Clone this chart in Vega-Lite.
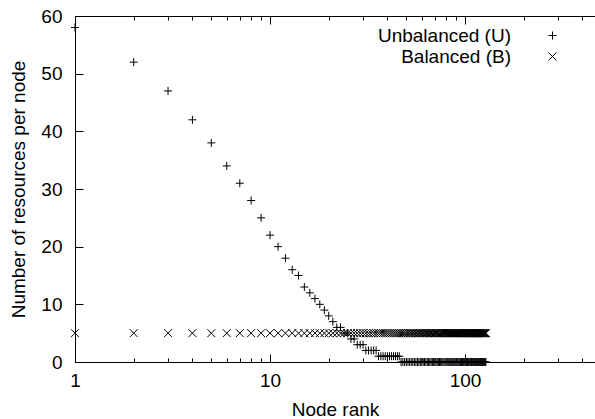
{
  "$schema": "https://vega.github.io/schema/vega-lite/v6.json",
  "width": 520,
  "height": 346,
  "autosize": {"type": "none"},
  "padding": {"left": 75, "top": 16, "right": 0, "bottom": 57},
  "background": "white",
  "config": {
    "view": {"stroke": null},
    "font": "Liberation Sans",
    "axis": {"domainColor": "black", "tickColor": "black", "labelColor": "black", "titleColor": "black", "grid": false, "labelFontSize": 19, "titleFontSize": 19, "titleFontWeight": "normal", "labelFlush": false, "labelOverlap": false}
  },
  "datasets": {
    "unbalanced": [
      {"rank": 1, "value": 58, "series": "Unbalanced (U)"}, {"rank": 2, "value": 52, "series": "Unbalanced (U)"},
      {"rank": 3, "value": 47, "series": "Unbalanced (U)"}, {"rank": 4, "value": 42, "series": "Unbalanced (U)"},
      {"rank": 5, "value": 38, "series": "Unbalanced (U)"}, {"rank": 6, "value": 34, "series": "Unbalanced (U)"},
      {"rank": 7, "value": 31, "series": "Unbalanced (U)"}, {"rank": 8, "value": 28, "series": "Unbalanced (U)"},
      {"rank": 9, "value": 25, "series": "Unbalanced (U)"}, {"rank": 10, "value": 22, "series": "Unbalanced (U)"},
      {"rank": 11, "value": 20, "series": "Unbalanced (U)"}, {"rank": 12, "value": 18, "series": "Unbalanced (U)"},
      {"rank": 13, "value": 16, "series": "Unbalanced (U)"}, {"rank": 14, "value": 15, "series": "Unbalanced (U)"},
      {"rank": 15, "value": 13, "series": "Unbalanced (U)"}, {"rank": 16, "value": 12, "series": "Unbalanced (U)"},
      {"rank": 17, "value": 11, "series": "Unbalanced (U)"}, {"rank": 18, "value": 10, "series": "Unbalanced (U)"},
      {"rank": 19, "value": 9, "series": "Unbalanced (U)"}, {"rank": 20, "value": 8, "series": "Unbalanced (U)"},
      {"rank": 21, "value": 7, "series": "Unbalanced (U)"}, {"rank": 22, "value": 6, "series": "Unbalanced (U)"},
      {"rank": 23, "value": 6, "series": "Unbalanced (U)"}, {"rank": 24, "value": 5, "series": "Unbalanced (U)"},
      {"rank": 25, "value": 5, "series": "Unbalanced (U)"}, {"rank": 26, "value": 4, "series": "Unbalanced (U)"},
      {"rank": 27, "value": 4, "series": "Unbalanced (U)"}, {"rank": 28, "value": 3, "series": "Unbalanced (U)"},
      {"rank": 29, "value": 3, "series": "Unbalanced (U)"}, {"rank": 30, "value": 3, "series": "Unbalanced (U)"},
      {"rank": 31, "value": 2, "series": "Unbalanced (U)"}, {"rank": 32, "value": 2, "series": "Unbalanced (U)"},
      {"rank": 33, "value": 2, "series": "Unbalanced (U)"}, {"rank": 34, "value": 2, "series": "Unbalanced (U)"},
      {"rank": 35, "value": 2, "series": "Unbalanced (U)"}, {"rank": 36, "value": 1, "series": "Unbalanced (U)"},
      {"rank": 37, "value": 1, "series": "Unbalanced (U)"}, {"rank": 38, "value": 1, "series": "Unbalanced (U)"},
      {"rank": 39, "value": 1, "series": "Unbalanced (U)"}, {"rank": 40, "value": 1, "series": "Unbalanced (U)"},
      {"rank": 41, "value": 1, "series": "Unbalanced (U)"}, {"rank": 42, "value": 1, "series": "Unbalanced (U)"},
      {"rank": 43, "value": 1, "series": "Unbalanced (U)"}, {"rank": 44, "value": 1, "series": "Unbalanced (U)"},
      {"rank": 45, "value": 1, "series": "Unbalanced (U)"}, {"rank": 46, "value": 1, "series": "Unbalanced (U)"},
      {"rank": 47, "value": 0, "series": "Unbalanced (U)"}, {"rank": 48, "value": 0, "series": "Unbalanced (U)"},
      {"rank": 49, "value": 0, "series": "Unbalanced (U)"}, {"rank": 50, "value": 0, "series": "Unbalanced (U)"},
      {"rank": 51, "value": 0, "series": "Unbalanced (U)"}, {"rank": 52, "value": 0, "series": "Unbalanced (U)"},
      {"rank": 53, "value": 0, "series": "Unbalanced (U)"}, {"rank": 54, "value": 0, "series": "Unbalanced (U)"},
      {"rank": 55, "value": 0, "series": "Unbalanced (U)"}, {"rank": 56, "value": 0, "series": "Unbalanced (U)"},
      {"rank": 57, "value": 0, "series": "Unbalanced (U)"}, {"rank": 58, "value": 0, "series": "Unbalanced (U)"},
      {"rank": 59, "value": 0, "series": "Unbalanced (U)"}, {"rank": 60, "value": 0, "series": "Unbalanced (U)"},
      {"rank": 61, "value": 0, "series": "Unbalanced (U)"}, {"rank": 62, "value": 0, "series": "Unbalanced (U)"},
      {"rank": 63, "value": 0, "series": "Unbalanced (U)"}, {"rank": 64, "value": 0, "series": "Unbalanced (U)"},
      {"rank": 65, "value": 0, "series": "Unbalanced (U)"}, {"rank": 66, "value": 0, "series": "Unbalanced (U)"},
      {"rank": 67, "value": 0, "series": "Unbalanced (U)"}, {"rank": 68, "value": 0, "series": "Unbalanced (U)"},
      {"rank": 69, "value": 0, "series": "Unbalanced (U)"}, {"rank": 70, "value": 0, "series": "Unbalanced (U)"},
      {"rank": 71, "value": 0, "series": "Unbalanced (U)"}, {"rank": 72, "value": 0, "series": "Unbalanced (U)"},
      {"rank": 73, "value": 0, "series": "Unbalanced (U)"}, {"rank": 74, "value": 0, "series": "Unbalanced (U)"},
      {"rank": 75, "value": 0, "series": "Unbalanced (U)"}, {"rank": 76, "value": 0, "series": "Unbalanced (U)"},
      {"rank": 77, "value": 0, "series": "Unbalanced (U)"}, {"rank": 78, "value": 0, "series": "Unbalanced (U)"},
      {"rank": 79, "value": 0, "series": "Unbalanced (U)"}, {"rank": 80, "value": 0, "series": "Unbalanced (U)"},
      {"rank": 81, "value": 0, "series": "Unbalanced (U)"}, {"rank": 82, "value": 0, "series": "Unbalanced (U)"},
      {"rank": 83, "value": 0, "series": "Unbalanced (U)"}, {"rank": 84, "value": 0, "series": "Unbalanced (U)"},
      {"rank": 85, "value": 0, "series": "Unbalanced (U)"}, {"rank": 86, "value": 0, "series": "Unbalanced (U)"},
      {"rank": 87, "value": 0, "series": "Unbalanced (U)"}, {"rank": 88, "value": 0, "series": "Unbalanced (U)"},
      {"rank": 89, "value": 0, "series": "Unbalanced (U)"}, {"rank": 90, "value": 0, "series": "Unbalanced (U)"},
      {"rank": 91, "value": 0, "series": "Unbalanced (U)"}, {"rank": 92, "value": 0, "series": "Unbalanced (U)"},
      {"rank": 93, "value": 0, "series": "Unbalanced (U)"}, {"rank": 94, "value": 0, "series": "Unbalanced (U)"},
      {"rank": 95, "value": 0, "series": "Unbalanced (U)"}, {"rank": 96, "value": 0, "series": "Unbalanced (U)"},
      {"rank": 97, "value": 0, "series": "Unbalanced (U)"}, {"rank": 98, "value": 0, "series": "Unbalanced (U)"},
      {"rank": 99, "value": 0, "series": "Unbalanced (U)"}, {"rank": 100, "value": 0, "series": "Unbalanced (U)"},
      {"rank": 101, "value": 0, "series": "Unbalanced (U)"}, {"rank": 102, "value": 0, "series": "Unbalanced (U)"},
      {"rank": 103, "value": 0, "series": "Unbalanced (U)"}, {"rank": 104, "value": 0, "series": "Unbalanced (U)"},
      {"rank": 105, "value": 0, "series": "Unbalanced (U)"}, {"rank": 106, "value": 0, "series": "Unbalanced (U)"},
      {"rank": 107, "value": 0, "series": "Unbalanced (U)"}, {"rank": 108, "value": 0, "series": "Unbalanced (U)"},
      {"rank": 109, "value": 0, "series": "Unbalanced (U)"}, {"rank": 110, "value": 0, "series": "Unbalanced (U)"},
      {"rank": 111, "value": 0, "series": "Unbalanced (U)"}, {"rank": 112, "value": 0, "series": "Unbalanced (U)"},
      {"rank": 113, "value": 0, "series": "Unbalanced (U)"}, {"rank": 114, "value": 0, "series": "Unbalanced (U)"},
      {"rank": 115, "value": 0, "series": "Unbalanced (U)"}, {"rank": 116, "value": 0, "series": "Unbalanced (U)"},
      {"rank": 117, "value": 0, "series": "Unbalanced (U)"}, {"rank": 118, "value": 0, "series": "Unbalanced (U)"},
      {"rank": 119, "value": 0, "series": "Unbalanced (U)"}, {"rank": 120, "value": 0, "series": "Unbalanced (U)"},
      {"rank": 121, "value": 0, "series": "Unbalanced (U)"}, {"rank": 122, "value": 0, "series": "Unbalanced (U)"},
      {"rank": 123, "value": 0, "series": "Unbalanced (U)"}, {"rank": 124, "value": 0, "series": "Unbalanced (U)"},
      {"rank": 125, "value": 0, "series": "Unbalanced (U)"}, {"rank": 126, "value": 0, "series": "Unbalanced (U)"},
      {"rank": 127, "value": 0, "series": "Unbalanced (U)"}, {"rank": 128, "value": 0, "series": "Unbalanced (U)"}
    ],
    "balanced": [
      {"rank": 1, "value": 5, "series": "Balanced (B)"}, {"rank": 2, "value": 5, "series": "Balanced (B)"},
      {"rank": 3, "value": 5, "series": "Balanced (B)"}, {"rank": 4, "value": 5, "series": "Balanced (B)"},
      {"rank": 5, "value": 5, "series": "Balanced (B)"}, {"rank": 6, "value": 5, "series": "Balanced (B)"},
      {"rank": 7, "value": 5, "series": "Balanced (B)"}, {"rank": 8, "value": 5, "series": "Balanced (B)"},
      {"rank": 9, "value": 5, "series": "Balanced (B)"}, {"rank": 10, "value": 5, "series": "Balanced (B)"},
      {"rank": 11, "value": 5, "series": "Balanced (B)"}, {"rank": 12, "value": 5, "series": "Balanced (B)"},
      {"rank": 13, "value": 5, "series": "Balanced (B)"}, {"rank": 14, "value": 5, "series": "Balanced (B)"},
      {"rank": 15, "value": 5, "series": "Balanced (B)"}, {"rank": 16, "value": 5, "series": "Balanced (B)"},
      {"rank": 17, "value": 5, "series": "Balanced (B)"}, {"rank": 18, "value": 5, "series": "Balanced (B)"},
      {"rank": 19, "value": 5, "series": "Balanced (B)"}, {"rank": 20, "value": 5, "series": "Balanced (B)"},
      {"rank": 21, "value": 5, "series": "Balanced (B)"}, {"rank": 22, "value": 5, "series": "Balanced (B)"},
      {"rank": 23, "value": 5, "series": "Balanced (B)"}, {"rank": 24, "value": 5, "series": "Balanced (B)"},
      {"rank": 25, "value": 5, "series": "Balanced (B)"}, {"rank": 26, "value": 5, "series": "Balanced (B)"},
      {"rank": 27, "value": 5, "series": "Balanced (B)"}, {"rank": 28, "value": 5, "series": "Balanced (B)"},
      {"rank": 29, "value": 5, "series": "Balanced (B)"}, {"rank": 30, "value": 5, "series": "Balanced (B)"},
      {"rank": 31, "value": 5, "series": "Balanced (B)"}, {"rank": 32, "value": 5, "series": "Balanced (B)"},
      {"rank": 33, "value": 5, "series": "Balanced (B)"}, {"rank": 34, "value": 5, "series": "Balanced (B)"},
      {"rank": 35, "value": 5, "series": "Balanced (B)"}, {"rank": 36, "value": 5, "series": "Balanced (B)"},
      {"rank": 37, "value": 5, "series": "Balanced (B)"}, {"rank": 38, "value": 5, "series": "Balanced (B)"},
      {"rank": 39, "value": 5, "series": "Balanced (B)"}, {"rank": 40, "value": 5, "series": "Balanced (B)"},
      {"rank": 41, "value": 5, "series": "Balanced (B)"}, {"rank": 42, "value": 5, "series": "Balanced (B)"},
      {"rank": 43, "value": 5, "series": "Balanced (B)"}, {"rank": 44, "value": 5, "series": "Balanced (B)"},
      {"rank": 45, "value": 5, "series": "Balanced (B)"}, {"rank": 46, "value": 5, "series": "Balanced (B)"},
      {"rank": 47, "value": 5, "series": "Balanced (B)"}, {"rank": 48, "value": 5, "series": "Balanced (B)"},
      {"rank": 49, "value": 5, "series": "Balanced (B)"}, {"rank": 50, "value": 5, "series": "Balanced (B)"},
      {"rank": 51, "value": 5, "series": "Balanced (B)"}, {"rank": 52, "value": 5, "series": "Balanced (B)"},
      {"rank": 53, "value": 5, "series": "Balanced (B)"}, {"rank": 54, "value": 5, "series": "Balanced (B)"},
      {"rank": 55, "value": 5, "series": "Balanced (B)"}, {"rank": 56, "value": 5, "series": "Balanced (B)"},
      {"rank": 57, "value": 5, "series": "Balanced (B)"}, {"rank": 58, "value": 5, "series": "Balanced (B)"},
      {"rank": 59, "value": 5, "series": "Balanced (B)"}, {"rank": 60, "value": 5, "series": "Balanced (B)"},
      {"rank": 61, "value": 5, "series": "Balanced (B)"}, {"rank": 62, "value": 5, "series": "Balanced (B)"},
      {"rank": 63, "value": 5, "series": "Balanced (B)"}, {"rank": 64, "value": 5, "series": "Balanced (B)"},
      {"rank": 65, "value": 5, "series": "Balanced (B)"}, {"rank": 66, "value": 5, "series": "Balanced (B)"},
      {"rank": 67, "value": 5, "series": "Balanced (B)"}, {"rank": 68, "value": 5, "series": "Balanced (B)"},
      {"rank": 69, "value": 5, "series": "Balanced (B)"}, {"rank": 70, "value": 5, "series": "Balanced (B)"},
      {"rank": 71, "value": 5, "series": "Balanced (B)"}, {"rank": 72, "value": 5, "series": "Balanced (B)"},
      {"rank": 73, "value": 5, "series": "Balanced (B)"}, {"rank": 74, "value": 5, "series": "Balanced (B)"},
      {"rank": 75, "value": 5, "series": "Balanced (B)"}, {"rank": 76, "value": 5, "series": "Balanced (B)"},
      {"rank": 77, "value": 5, "series": "Balanced (B)"}, {"rank": 78, "value": 5, "series": "Balanced (B)"},
      {"rank": 79, "value": 5, "series": "Balanced (B)"}, {"rank": 80, "value": 5, "series": "Balanced (B)"},
      {"rank": 81, "value": 5, "series": "Balanced (B)"}, {"rank": 82, "value": 5, "series": "Balanced (B)"},
      {"rank": 83, "value": 5, "series": "Balanced (B)"}, {"rank": 84, "value": 5, "series": "Balanced (B)"},
      {"rank": 85, "value": 5, "series": "Balanced (B)"}, {"rank": 86, "value": 5, "series": "Balanced (B)"},
      {"rank": 87, "value": 5, "series": "Balanced (B)"}, {"rank": 88, "value": 5, "series": "Balanced (B)"},
      {"rank": 89, "value": 5, "series": "Balanced (B)"}, {"rank": 90, "value": 5, "series": "Balanced (B)"},
      {"rank": 91, "value": 5, "series": "Balanced (B)"}, {"rank": 92, "value": 5, "series": "Balanced (B)"},
      {"rank": 93, "value": 5, "series": "Balanced (B)"}, {"rank": 94, "value": 5, "series": "Balanced (B)"},
      {"rank": 95, "value": 5, "series": "Balanced (B)"}, {"rank": 96, "value": 5, "series": "Balanced (B)"},
      {"rank": 97, "value": 5, "series": "Balanced (B)"}, {"rank": 98, "value": 5, "series": "Balanced (B)"},
      {"rank": 99, "value": 5, "series": "Balanced (B)"}, {"rank": 100, "value": 5, "series": "Balanced (B)"},
      {"rank": 101, "value": 5, "series": "Balanced (B)"}, {"rank": 102, "value": 5, "series": "Balanced (B)"},
      {"rank": 103, "value": 5, "series": "Balanced (B)"}, {"rank": 104, "value": 5, "series": "Balanced (B)"},
      {"rank": 105, "value": 5, "series": "Balanced (B)"}, {"rank": 106, "value": 5, "series": "Balanced (B)"},
      {"rank": 107, "value": 5, "series": "Balanced (B)"}, {"rank": 108, "value": 5, "series": "Balanced (B)"},
      {"rank": 109, "value": 5, "series": "Balanced (B)"}, {"rank": 110, "value": 5, "series": "Balanced (B)"},
      {"rank": 111, "value": 5, "series": "Balanced (B)"}, {"rank": 112, "value": 5, "series": "Balanced (B)"},
      {"rank": 113, "value": 5, "series": "Balanced (B)"}, {"rank": 114, "value": 5, "series": "Balanced (B)"},
      {"rank": 115, "value": 5, "series": "Balanced (B)"}, {"rank": 116, "value": 5, "series": "Balanced (B)"},
      {"rank": 117, "value": 5, "series": "Balanced (B)"}, {"rank": 118, "value": 5, "series": "Balanced (B)"},
      {"rank": 119, "value": 5, "series": "Balanced (B)"}, {"rank": 120, "value": 5, "series": "Balanced (B)"},
      {"rank": 121, "value": 5, "series": "Balanced (B)"}, {"rank": 122, "value": 5, "series": "Balanced (B)"},
      {"rank": 123, "value": 5, "series": "Balanced (B)"}, {"rank": 124, "value": 5, "series": "Balanced (B)"},
      {"rank": 125, "value": 5, "series": "Balanced (B)"}, {"rank": 126, "value": 5, "series": "Balanced (B)"},
      {"rank": 127, "value": 5, "series": "Balanced (B)"}, {"rank": 128, "value": 5, "series": "Balanced (B)"}
    ]
  },
  "layer": [
    {
      "data": {"name": "unbalanced"},
      "mark": {"type": "point", "filled": false, "strokeWidth": 1, "size": 64, "color": "black", "opacity": 1},
      "encoding": {
        "x": {
          "field": "rank", "type": "quantitative",
          "scale": {"type": "log", "domain": [1, 464], "nice": false},
          "axis": {
            "orient": "bottom",
            "values": [1, 2, 3, 4, 5, 6, 7, 8, 9, 10, 20, 30, 40, 50, 60, 70, 80, 90, 100, 200, 300, 400],
            "labelExpr": "datum.value == 1 || datum.value == 10 || datum.value == 100 ? '' + datum.value : ''",
            "tickSize": {"condition": {"test": "datum.value == 1 || datum.value == 10 || datum.value == 100", "value": -8}, "value": -4},
            "labelPadding": 17,
            "title": "Node rank",
            "titlePadding": 6
          }
        },
        "y": {
          "field": "value", "type": "quantitative",
          "scale": {"domain": [0, 60], "nice": false},
          "axis": {
            "values": [0, 10, 20, 30, 40, 50, 60],
            "tickSize": -8,
            "labelPadding": 21,
            "title": "Number of resources per node",
            "titlePadding": 12
          }
        },
        "shape": {
          "field": "series", "type": "nominal",
          "scale": {"domain": ["Unbalanced (U)", "Balanced (B)"], "range": ["M-1,0H1M0,-1V1", "M-1,-1L1,1M-1,1L1,-1"]},
          "legend": {
            "title": null,
            "orient": "none",
            "legendX": 468,
            "legendY": 10,
            "labelAlign": "right",
            "labelOffset": -51,
            "labelFontSize": 19,
            "labelColor": "black",
            "labelLimit": 300,
            "symbolSize": 64,
            "symbolStrokeWidth": 1,
            "symbolStrokeColor": "black",
            "symbolFillColor": "transparent",
            "rowPadding": 1
          }
        }
      }
    },
    {
      "data": {"name": "balanced"},
      "mark": {"type": "point", "filled": false, "strokeWidth": 1, "size": 64, "color": "black", "opacity": 1},
      "encoding": {
        "x": {
          "field": "rank", "type": "quantitative",
          "scale": {"type": "log", "domain": [1, 464], "nice": false},
          "axis": {
            "orient": "top",
            "values": [1, 2, 3, 4, 5, 6, 7, 8, 9, 10, 20, 30, 40, 50, 60, 70, 80, 90, 100, 200, 300, 400],
            "labels": false,
            "tickSize": {"condition": {"test": "datum.value == 1 || datum.value == 10 || datum.value == 100", "value": -8}, "value": -4},
            "title": null
          }
        },
        "y": {"field": "value", "type": "quantitative"},
        "shape": {"field": "series", "type": "nominal"}
      }
    }
  ],
  "resolve": {"axis": {"x": "independent"}}
}
